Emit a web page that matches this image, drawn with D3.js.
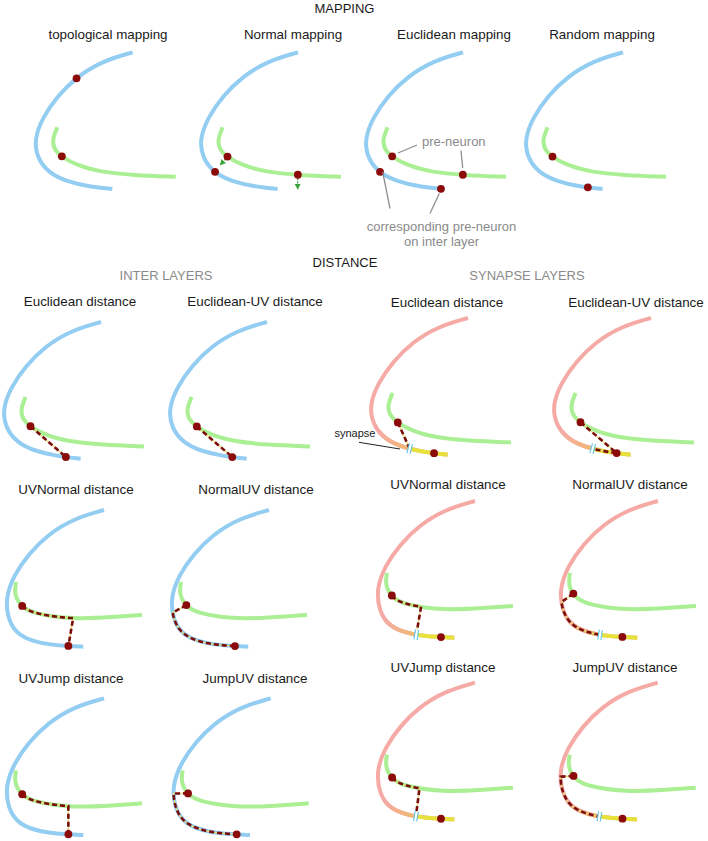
<!DOCTYPE html>
<html><head><meta charset="utf-8">
<script src="https://cdn.jsdelivr.net/npm/d3@7"></script>
<style>body{margin:0;background:#fff}svg{display:block;font-family:"Liberation Sans",Arial,sans-serif}</style>
</head><body><svg id="c" width="708" height="841"></svg>
<script>
// ---------- DATA (coordinates relative to the top end of the outer layer) ----------
const outerA = [[0,0],[-30,8.5],[-56,24.5],[-75,43.5],[-90,65],[-98.5,87],[-95.5,106],[-83.5,121],[-66,129],[-45,134],[-20.4,136.7]];
const outerB = [[0,0],[-30,8.5],[-56,24.5],[-75,43.5],[-90,65],[-98.5,87.5],[-96,110],[-86,126],[-62,134.2],[-36,136],[-20.7,136.7]];
const greenA = [[-75.4,75],[-80.8,87.7],[-78,98],[-71,104.5],[-56,113],[-32.7,119.6],[0.6,122.9],[43,124.4]];
const greenB = [[-88,72],[-90,84],[-83,96.5],[-71,103.5],[-31,109.5],[10,107],[38,105]];

// Mapping row
const mapTitles = ["topological mapping","Normal mapping","Euclidean mapping","Random mapping"];
const mapTitleX = [108,293,454,602];
const mapTitleY = 34.5;
const mapOriginX = [132.7,298,463,623];
const mapOriginY = 52.3;
const mapGreenDots = [[[-71,104]],[[-70.3,104],[-0.3,122.7]],[[-70.7,104],[0,122.7]],[[-70.7,104.3]]];
const mapOuterDots = [[[-56,26]],[[-79.7,115.7]],[[-80,115.7],[-22,136.7]],[[-35,134.7]]];
const normalArrows = [[[-70.3,104],[-77.5,112.5]],[[-0.3,122.7],[-0.3,136.5]]];

// Distance rows
const distTitles = ["Euclidean distance","Euclidean-UV distance","Euclidean distance","Euclidean-UV distance",
  "UVNormal distance","NormalUV distance","UVNormal distance","NormalUV distance",
  "UVJump distance","JumpUV distance","UVJump distance","JumpUV distance"];
const distTitleX = [80,255,447,636, 76,256,448,630, 71,255,443,625];
const distTitleY = [301,301,302,302, 489,489,484,484, 678,678,667,667];
const distOriginX = [101,267,468,651, 104,269,475,658, 104,270.7,475,657.7];
const distOriginY = [322,322,318,318, 510,510,501,501, 698.3,698.3,682.7,682.7];
const distLayer = ["inter","inter","synapse","synapse","inter","inter","synapse","synapse","inter","inter","synapse","synapse"];
const distShape = ["A","A","A","A","B","B","B","B","B","B","B","B"];
const distGreenDot = [[-71,105],[-70.3,104.7],[-70.3,104.7],[-71,104.7],[-82,96],[-82.3,95],[-83.3,94.7],[-85.3,93.3],[-82,96],[-82.4,95],[-83.3,95],[-85,94]];
const distPostDot = [[-35,135],[-34.7,134.7],[-33.7,134.3],[-34.3,134.7],[-35.7,135],[-34,134.3],[-34,134],[-35.3,134],[-35.7,134.7],[-34,134],[-34,134],[-35,134]];
const distSynapse = [null,null,[-58,128.7],[-57.7,128.7],null,null,[-57.7,127],[-56.3,125],null,null,[-58.3,130],[-57.7,129]];
// route steps: [mode, target]; mode: "line" | "green" (along inner layer) | "outer" (along outer layer)
const distRoutes = [
  [["line","post"]],
  [["line","post"]],
  [["line","syn"]],
  [["line","post"],["outer","syn"]],
  [["green",[-30.7,109]],["line","post"]],
  [["line",[-90.7,101.7]],["outer","post"]],
  [["green",[-54.3,107.3]],["line","syn"]],
  [["line",[-93.7,100.7]],["outer","syn"]],
  [["green",[-35.7,108.7]],["line","post"]],
  [["line",[-94,95]],["outer","post"]],
  [["green",[-55.7,107.3]],["line","syn"]],
  [["line",[-95.4,94]],["outer","syn"]]
];

// Headings
const headings = [
  {text:"MAPPING", x:344.5, y:8, color:"#1a1a1a"},
  {text:"DISTANCE", x:345, y:262, color:"#1a1a1a"},
  {text:"INTER LAYERS", x:166, y:275, color:"#8a8a8a"},
  {text:"SYNAPSE LAYERS", x:527, y:275, color:"#8a8a8a"}
];

// ---------- STYLE ----------
const COL = {blue:"#93cdf2", green:"#aaef94", pink:"#f5aaa5", orange:"#efba70", yellow:"#e6e23a",
  dot:"#8b0a0a", dash:"#7a0c0c", under:"#e2d86a", gray:"#8a8a8a", text:"#1a1a1a", syn:"#5ec4ee", arrow:"#3aa43a"};
const CW = 4; // layer stroke width

const svg = d3.select("#c");
const defs = svg.append("defs");
defs.append("marker").attr("id","arr").attr("viewBox","0 0 6 6").attr("refX",5).attr("refY",3)
  .attr("markerWidth",5).attr("markerHeight",5).attr("orient","auto")
  .append("path").attr("d","M0,0L6,3L0,6z").attr("fill",COL.arrow);

const smooth = d3.line().curve(d3.curveBasis);
const poly = d3.line();

const gCurves = svg.append("g"), gOver = svg.append("g"), gDash = svg.append("g"),
      gMarks = svg.append("g"), gDots = svg.append("g"), gText = svg.append("g");

function scales(ox, oy){
  return {x:d3.scaleLinear().domain([0,100]).range([ox,ox+100]),
          y:d3.scaleLinear().domain([0,100]).range([oy,oy+100])};
}
const P = (s,p) => [s.x(p[0]), s.y(p[1])];

function curvePath(pts, s, color, w){
  return gCurves.append("path").attr("d", smooth(pts.map(p=>P(s,p))))
    .attr("fill","none").attr("stroke",color).attr("stroke-width",w).attr("stroke-linecap","butt");
}
function nearestLen(path, pt){
  const node = path.node(), L = node.getTotalLength();
  let best=0, bd=Infinity;
  for(let l=0;l<=L;l+=0.4){const q=node.getPointAtLength(l);const d=(q.x-pt[0])**2+(q.y-pt[1])**2;if(d<bd){bd=d;best=l;}}
  return best;
}
function ptAt(path,l){const q=path.node().getPointAtLength(l);return [q.x,q.y];}
function sub(path,l0,l1){
  const n=Math.max(2,Math.ceil(Math.abs(l1-l0)/1.5));
  return d3.range(n+1).map(i=>ptAt(path,l0+(l1-l0)*i/n));
}
function dot(p){gDots.append("circle").attr("cx",p[0]).attr("cy",p[1]).attr("r",3.9).attr("fill",COL.dot);}
function label(t,x,y,size,color,anchor){
  gText.append("text").attr("x",x).attr("y",y).attr("text-anchor",anchor||"middle")
    .attr("dominant-baseline","central").attr("font-size",size).attr("fill",color).text(t);
}

// ---------- MAPPING ROW ----------
headings.forEach(h=>label(h.text,h.x,h.y,13,h.color));
mapTitles.forEach((t,i)=>{
  const s = scales(mapOriginX[i], mapOriginY);
  label(t, mapTitleX[i], mapTitleY, 13.4, COL.text);
  const outer = curvePath(outerA, s, COL.blue, CW);
  const inner = curvePath(greenA, s, COL.green, CW);
  if(i===1){
    normalArrows.forEach(a=>{
      const p0=P(s,a[0]), p1=P(s,a[1]);
      gDash.append("line").attr("x1",p0[0]).attr("y1",p0[1]).attr("x2",p1[0]).attr("y2",p1[1])
        .attr("stroke",COL.arrow).attr("stroke-width",1.2).attr("stroke-dasharray","2,1.2").attr("marker-end","url(#arr)");
    });
  }
  mapGreenDots[i].forEach(p=>dot(ptAt(inner, nearestLen(inner,P(s,p)))));
  mapOuterDots[i].forEach(p=>dot(ptAt(outer, nearestLen(outer,P(s,p)))));
});

// Euclidean mapping annotations
(function(){
  const lines = [[398,153,417,145],[461,150.5,462.7,168],[382.7,172,390,208.5],[439.3,193.5,430,213.5]];
  lines.forEach(l=>gText.append("line").attr("x1",l[0]).attr("y1",l[1]).attr("x2",l[2]).attr("y2",l[3])
    .attr("stroke","#8f8f8f").attr("stroke-width",1.3));
  label("pre-neuron",422,141,13,COL.gray,"start");
  label("corresponding pre-neuron",441.5,226,13,COL.gray);
  label("on inter layer",441.5,241,13,COL.gray);
})();

// ---------- DISTANCE ROWS ----------
distTitles.forEach((t,i)=>{
  const s = scales(distOriginX[i], distOriginY[i]);
  label(t, distTitleX[i], distTitleY[i], 13.4, COL.text);
  const syn = distLayer[i]==="synapse";
  const oPts = distShape[i]==="A"?outerA:outerB, gPts = distShape[i]==="A"?greenA:greenB;
  const outer = curvePath(oPts, s, syn?COL.pink:COL.blue, CW);
  const inner = curvePath(gPts, s, COL.green, CW);
  const L = outer.node().getTotalLength();
  const gLen = nearestLen(inner, P(s,distGreenDot[i]));
  const gDot = ptAt(inner, gLen);
  const pLen = nearestLen(outer, P(s,distPostDot[i]));
  const pDot = ptAt(outer, pLen);
  let sLen=null, sPt=null;
  if(syn){
    sLen = nearestLen(outer, P(s,distSynapse[i])); sPt = ptAt(outer,sLen);
    const span=36, N=18, ip=d3.interpolateRgb(COL.pink,COL.orange);
    for(let k=0;k<N;k++){
      const a=sLen-span+span*k/N, b=sLen-span+span*(k+1)/N+0.6;
      gOver.append("path").attr("d",poly(sub(outer,a,Math.min(b,sLen)))).attr("fill","none")
        .attr("stroke",ip((k+0.5)/N)).attr("stroke-width",CW);
    }
    gOver.append("path").attr("d",poly(sub(outer,sLen,L))).attr("fill","none")
      .attr("stroke",COL.yellow).attr("stroke-width",CW);
  }
  let pts=[gDot], cur={len:gLen,pt:gDot};
  distRoutes[i].forEach(([mode,tgt])=>{
    let tp, tl=null;
    if(tgt==="post"){tp=pDot;tl=pLen;}
    else if(tgt==="syn"){tp=sPt;tl=sLen;}
    else { const raw=P(s,tgt);
      if(mode==="green"){tl=nearestLen(inner,raw);tp=ptAt(inner,tl);}
      else {tl=nearestLen(outer,raw);tp=ptAt(outer,tl);} }
    if(mode==="line"){pts.push(tp);}
    else if(mode==="green"){pts=pts.concat(sub(inner,cur.len,tl).slice(1));}
    else {const l0=nearestLen(outer,pts[pts.length-1]);pts=pts.concat(sub(outer,l0,tl).slice(1));}
    cur={len:tl,pt:tp};
  });
  gDash.append("path").attr("d",poly(pts)).attr("fill","none").attr("stroke",COL.under).attr("stroke-width",1.2);
  gDash.append("path").attr("d",poly(pts)).attr("fill","none").attr("stroke",COL.dash)
    .attr("stroke-width",2.6).attr("stroke-dasharray","5,3");
  if(syn){
    const a=ptAt(outer,sLen-1.5), b=ptAt(outer,sLen+1.5);
    let tx=b[0]-a[0], ty=b[1]-a[1]; const n=Math.hypot(tx,ty); tx/=n; ty/=n;
    const nx=-ty, ny=tx, h=5;
    gMarks.append("line").attr("x1",sPt[0]-nx*h).attr("y1",sPt[1]-ny*h).attr("x2",sPt[0]+nx*h).attr("y2",sPt[1]+ny*h)
      .attr("stroke","#fff").attr("stroke-width",3);
    [-1.6,1.6].forEach(o=>gMarks.append("line")
      .attr("x1",sPt[0]+tx*o-nx*h).attr("y1",sPt[1]+ty*o-ny*h).attr("x2",sPt[0]+tx*o+nx*h).attr("y2",sPt[1]+ty*o+ny*h)
      .attr("stroke",COL.syn).attr("stroke-width",1.1));
  }
  dot(gDot); dot(pDot);
  if(i===2){
    label("synapse",355,433,11,COL.text);
    gText.append("line").attr("x1",359).attr("y1",442.3).attr("x2",400).attr("y2",449).attr("stroke","#222").attr("stroke-width",1);
  }
});
</script></body></html>
